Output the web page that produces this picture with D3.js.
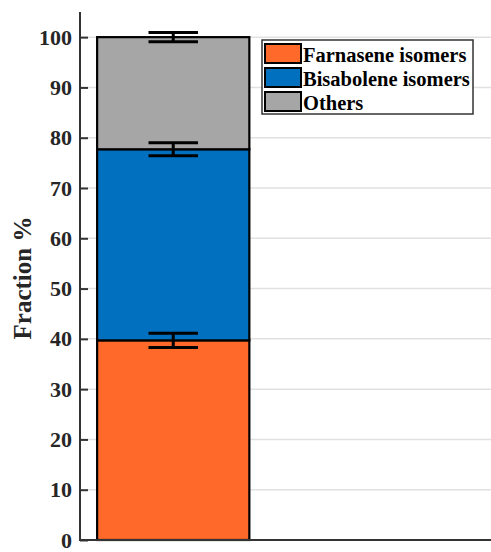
<!doctype html>
<html>
<head>
<meta charset="utf-8">
<title>Fraction chart</title>
<script src="https://cdnjs.cloudflare.com/ajax/libs/d3/7.8.5/d3.min.js"></script>
<style>
  body { margin: 0; background: #fff; }
  text { font-family: "Liberation Serif", "Times New Roman", serif; font-weight: bold; }
</style>
</head>
<body>
<svg width="491" height="552"></svg>
<script>
// data
var categories = ["Farnasene isomers", "Bisabolene isomers", "Others"];
var values = [39.7, 38.0, 22.3];
var errors = [1.4, 1.3, 0.9];
var colors = ["#ff6a2a", "#0070bf", "#a6a6a6"];
var yTicks = [0, 10, 20, 30, 40, 50, 60, 70, 80, 90, 100];

var svg = d3.select("svg");
var mLeft = 80, mRight = 491, mTop = 12, mBottom = 540;

var y = d3.scaleLinear().domain([0, 105]).range([mBottom, mTop]);
var x = d3.scaleLinear().domain([0.51, 2.67]).range([mLeft, mRight]);

// grid lines
svg.append("g").selectAll("line")
  .data(yTicks.filter(function(d) { return d > 0; }))
  .join("line")
  .attr("x1", mLeft).attr("x2", mRight)
  .attr("y1", function(d) { return y(d); })
  .attr("y2", function(d) { return y(d); })
  .attr("stroke", "#e1e1e1")
  .attr("stroke-width", 1.5);

// stacked bar
var stack = [];
var acc = 0;
values.forEach(function(v, i) {
  stack.push({ name: categories[i], y0: acc, y1: acc + v, err: errors[i], color: colors[i] });
  acc += v;
});

var bw = 0.8;
svg.append("g").selectAll("rect")
  .data(stack)
  .join("rect")
  .attr("x", x(1 - bw / 2))
  .attr("width", x(1 + bw / 2) - x(1 - bw / 2))
  .attr("y", function(d) { return y(d.y1); })
  .attr("height", function(d) { return y(d.y0) - y(d.y1); })
  .attr("fill", function(d) { return d.color; })
  .attr("stroke", "#000")
  .attr("stroke-width", 2.2);

// error bars
var capW = 0.13;
var eb = svg.append("g").attr("stroke", "#000").attr("stroke-width", 3);
stack.forEach(function(d) {
  eb.append("line").attr("x1", x(1)).attr("x2", x(1))
    .attr("y1", y(d.y1 - d.err)).attr("y2", y(d.y1 + d.err));
  [d.y1 - d.err, d.y1 + d.err].forEach(function(v) {
    eb.append("line").attr("x1", x(1 - capW)).attr("x2", x(1 + capW))
      .attr("y1", y(v)).attr("y2", y(v));
  });
});

// y axis
var yAxis = d3.axisLeft(y).tickValues(yTicks).tickSize(-8).tickPadding(8);
var ga = svg.append("g").attr("transform", "translate(" + mLeft + ",0)").call(yAxis);
ga.select(".domain").attr("d", "M0," + mTop + "V" + mBottom).attr("stroke", "#333").attr("stroke-width", 2);
ga.selectAll(".tick line").attr("stroke", "#333").attr("stroke-width", 2);
ga.selectAll(".tick text").attr("font-size", 22).attr("fill", "#262626")
  .attr("font-family", "Liberation Serif").attr("font-weight", "bold");

// x axis line
svg.append("line").attr("x1", mLeft - 1).attr("x2", mRight)
  .attr("y1", mBottom).attr("y2", mBottom)
  .attr("stroke", "#333").attr("stroke-width", 2);

// y label
svg.append("text")
  .attr("transform", "translate(31,278) rotate(-90)")
  .attr("text-anchor", "middle")
  .attr("font-size", 25)
  .attr("fill", "#262626")
  .text("Fraction %");

// legend
var lg = svg.append("g").attr("transform", "translate(262,40)");
lg.append("rect").attr("width", 211).attr("height", 74)
  .attr("fill", "#fff").attr("stroke", "#333").attr("stroke-width", 1.5);
var rowH = 24;
var items = lg.selectAll("g.item").data(stack).join("g")
  .attr("class", "item")
  .attr("transform", function(d, i) { return "translate(3," + (4 + i * rowH) + ")"; });
items.append("rect").attr("width", 36).attr("height", 19)
  .attr("fill", function(d) { return d.color; })
  .attr("stroke", "#000").attr("stroke-width", 2);
items.append("text").attr("x", 38).attr("y", 18)
  .attr("font-size", 20.5).attr("fill", "#000")
  .text(function(d) { return d.name; });
</script>
</body>
</html>
